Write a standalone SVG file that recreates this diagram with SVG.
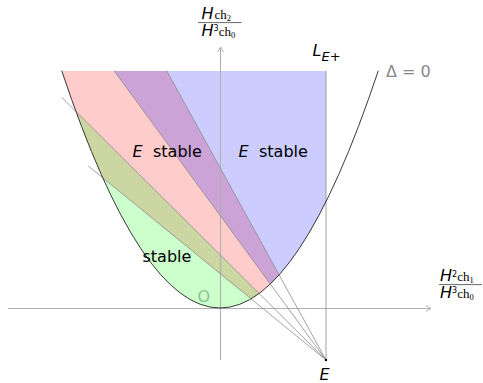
<svg xmlns="http://www.w3.org/2000/svg" width="483" height="383" viewBox="0 0 483 383">
<style>
.lbl{font-family:"DejaVu Sans",sans-serif;font-size:16px;fill:#000}
.it{font-style:italic}
.ser{font-family:"Liberation Serif",serif;font-style:normal}
.ax{stroke:#b0b0b0;stroke-width:1.1;fill:none}
.ray{stroke:#8c8c8c;stroke-width:0.8;fill:none}
</style>
<defs>
<clipPath id="para"><path d="M61.7,70.7 Q220,545.3 378.3,70.7 Z"/></clipPath>
<marker id="arr" markerWidth="10" markerHeight="10" refX="6" refY="4" orient="auto" markerUnits="userSpaceOnUse">
<path d="M1,1 Q4,3.2 6,4 Q4,4.8 1,7" fill="none" stroke="#b0b0b0" stroke-width="1"/>
</marker>
</defs>
<g id="regions" clip-path="url(#para)">
<polygon id="red" points="326,360 -28.5,70.7 166.7,70.7" fill="#ff0000" fill-opacity="0.2"/>
<polygon id="green" points="0,36 400,433.6 0,433.6" fill="#00ff00" fill-opacity="0.2"/>
<polygon id="blue" points="326,360 114,70.7 326,70.7" fill="#0000ff" fill-opacity="0.2"/>
</g>
<g id="axes">
<line class="ax" x1="8" y1="308.5" x2="431" y2="308.5" marker-end="url(#arr)"/>
<line class="ax" x1="220.5" y1="360" x2="220.5" y2="47" marker-end="url(#arr)"/>
</g>
<g id="connectors">
<line class="ray" x1="326" y1="360" x2="166.7" y2="70.7"/>
<line class="ray" x1="326" y1="360" x2="114" y2="70.7"/>
<line class="ray" x1="326" y1="360" x2="61.7" y2="97.3"/>
<line class="ray" x1="326" y1="360" x2="88.3" y2="166"/>
<line class="ray" x1="326" y1="360" x2="326" y2="70.7" stroke="#aaaaaa"/>
</g>
<g id="parabola">
<path d="M61.7,70.7 Q220,545.3 378.3,70.7" fill="none" stroke="#222" stroke-width="0.9"/>
</g>
<g id="point-E">
<circle cx="326" cy="360" r="1.2" fill="#000"/>
<text class="lbl it" x="319.5" y="379.5" font-size="16">E</text>
</g>
<g id="label-LE">
<text class="lbl it" x="312.5" y="56" font-size="16">L<tspan font-size="13" dy="5">E</tspan><tspan font-size="13" font-style="normal">+</tspan></text>
</g>
<g id="label-delta">
<text class="lbl" x="386" y="76.5" style="fill:#888">Δ = 0</text>
</g>
<g id="label-Estable1">
<text class="lbl it" x="132.5" y="156.7">E</text>
<text class="lbl" x="153" y="156.7">stable</text>
</g>
<g id="label-Estable2">
<text class="lbl it" x="238.5" y="156.7">E</text>
<text class="lbl" x="259" y="156.7">stable</text>
</g>
<g id="label-stable">
<text class="lbl" x="142.5" y="262">stable</text>
</g>
<g id="label-O">
<text class="lbl" x="197.5" y="302.3" font-size="18" style="fill:#8fbf8f">O</text>
</g>
<g id="label-yaxis">
<text class="lbl" font-size="12" y="19"><tspan class="it" x="201.5">H</tspan><tspan class="ser" x="214.5" font-size="13">ch</tspan><tspan class="ser" font-size="8.5" dy="2">2</tspan></text>
<line x1="198" y1="22.6" x2="241.5" y2="22.6" stroke="#000" stroke-width="0.6"/>
<text class="lbl" font-size="12" y="35.5"><tspan class="it" x="201.5">H</tspan><tspan font-size="8" dy="-4.5">3</tspan><tspan class="ser" font-size="13" dy="4.5">ch</tspan><tspan class="ser" font-size="8.5" dy="2">0</tspan></text>
</g>
<g id="label-xaxis">
<text class="lbl" font-size="12" y="281"><tspan class="it" x="440">H</tspan><tspan font-size="8" dy="-4.5">2</tspan><tspan class="ser" font-size="13" dy="4.5">ch</tspan><tspan class="ser" font-size="8.5" dy="2">1</tspan></text>
<line x1="439" y1="284.6" x2="482" y2="284.6" stroke="#000" stroke-width="0.6"/>
<text class="lbl" font-size="12" y="297.5"><tspan class="it" x="440">H</tspan><tspan font-size="8" dy="-4.5">3</tspan><tspan class="ser" font-size="13" dy="4.5">ch</tspan><tspan class="ser" font-size="8.5" dy="2">0</tspan></text>
</g>
</svg>
